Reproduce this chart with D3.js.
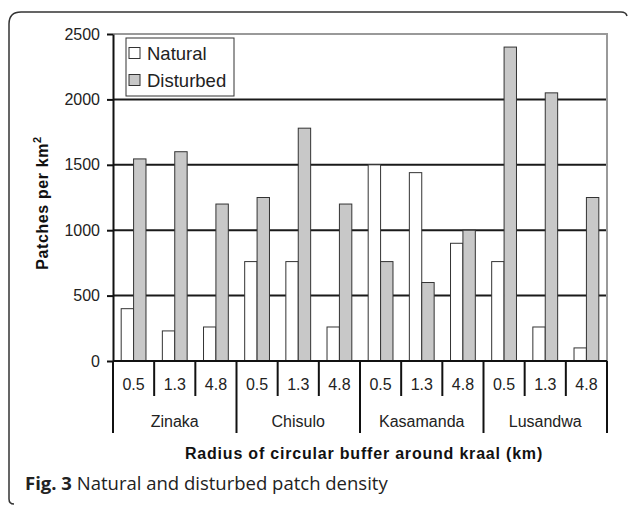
<!DOCTYPE html>
<html>
<head>
<meta charset="utf-8">
<script src="https://cdn.jsdelivr.net/npm/d3@7"></script>
<style>
  body { margin: 0; background: #fff; }
  svg { display: block; }
</style>
</head>
<body>
<div id="chart"></div>
<script>
// data
const sites = ["Zinaka", "Chisulo", "Kasamanda", "Lusandwa"];
const radii = ["0.5", "1.3", "4.8"];
const series = ["Natural", "Disturbed"];
const natural = [400, 230, 260, 760, 760, 260, 1500, 1440, 900, 760, 260, 100];
const disturbed = [1545, 1600, 1200, 1250, 1780, 1200, 760, 600, 1000, 2400, 2050, 1250];
const yTicks = [0, 500, 1000, 1500, 2000, 2500];

const W = 629, H = 506;
const margin = { top: 34, right: 22, bottom: 145, left: 113 };
const width = W - margin.left - margin.right;
const height = H - margin.top - margin.bottom;

const svg = d3.select("#chart").append("svg")
    .attr("width", W)
    .attr("height", H);

// outer frame (open bracket shape like the journal figure box)
svg.append("path")
    .attr("d", "M14,504 Q9,504 9,499 L9,24 Q9,12 21,12 L621,12 Q626,12 627,16")
    .attr("fill", "none")
    .attr("stroke", "#333")
    .attr("stroke-width", 1.5);

const g = svg.append("g")
    .attr("transform", "translate(" + margin.left + "," + margin.top + ")");

// one band per (site, radius) pair
const cats = [];
sites.forEach(s => radii.forEach(r => cats.push({ site: s, radius: r })));
const rows = cats.map((c, i) => ({ key: i, site: c.site, radius: c.radius, Natural: natural[i], Disturbed: disturbed[i] }));

const x = d3.scaleBand()
    .domain(d3.range(cats.length))
    .range([0, width])
    .padding(0);

const xs = d3.scaleBand()
    .domain(series)
    .range([0, x.bandwidth()])
    .paddingInner(0)
    .paddingOuter(0.66);

const y = d3.scaleLinear()
    .domain([0, 2500])
    .range([height, 0]);

const color = d3.scaleOrdinal()
    .domain(series)
    .range(["#ffffff", "#c8c8c8"]);

// gridlines
g.selectAll("line.grid")
    .data(yTicks.filter(t => t > 0 && t < 2500))
    .enter().append("line")
    .attr("class", "grid")
    .attr("x1", 0)
    .attr("x2", width)
    .attr("y1", d => y(d))
    .attr("y2", d => y(d))
    .attr("stroke", "#1a1a1a")
    .attr("stroke-width", 2);

// plot area border: top + right in grey
g.append("path")
    .attr("d", "M0," + y(2500) + "H" + width + "V" + height)
    .attr("fill", "none")
    .attr("stroke", "#999")
    .attr("stroke-width", 2);

// bars
const groups = g.selectAll("g.cat")
    .data(rows)
    .enter().append("g")
    .attr("class", "cat")
    .attr("transform", d => "translate(" + x(d.key) + ",0)");

groups.selectAll("rect")
    .data(d => series.map(k => ({ key: k, value: d[k] })))
    .enter().append("rect")
    .attr("x", d => xs(d.key))
    .attr("y", d => y(d.value))
    .attr("width", xs.bandwidth())
    .attr("height", d => height - y(d.value))
    .attr("fill", d => color(d.key))
    .attr("stroke", "#333")
    .attr("stroke-width", 1);

// y axis
const yAxis = g.append("g")
    .call(d3.axisLeft(y).tickValues(yTicks).tickFormat(d3.format("d"))
        .tickSize(6).tickPadding(7).tickSizeOuter(0));
yAxis.select(".domain").attr("stroke", "#111").attr("stroke-width", 2);
yAxis.selectAll(".tick line").attr("stroke", "#111").attr("stroke-width", 2);
yAxis.selectAll(".tick text")
    .style("font-family", "'Liberation Sans', Arial, sans-serif")
    .style("font-size", "16px")
    .attr("fill", "#222");

// category axis with two label rows
const cx = g.append("g").attr("class", "cat-axis");
cx.append("line")
    .attr("x1", 0).attr("x2", width)
    .attr("y1", height).attr("y2", height)
    .attr("stroke", "#111").attr("stroke-width", 2);

const seps = d3.range(cats.length + 1);
cx.selectAll("line.sep")
    .data(seps)
    .enter().append("line")
    .attr("class", "sep")
    .attr("x1", i => i * x.step())
    .attr("x2", i => i * x.step())
    .attr("y1", height)
    .attr("y2", i => height + (i % radii.length === 0 ? 72 : 35))
    .attr("stroke", "#111")
    .attr("stroke-width", 2);

cx.selectAll("text.radius")
    .data(rows)
    .enter().append("text")
    .attr("class", "radius")
    .attr("x", d => x(d.key) + x.bandwidth() / 2)
    .attr("y", height + 29)
    .attr("text-anchor", "middle")
    .style("font-family", "'Liberation Sans', Arial, sans-serif")
    .style("font-size", "16px")
    .attr("fill", "#222")
    .text(d => d.radius);

cx.selectAll("text.site")
    .data(sites)
    .enter().append("text")
    .attr("class", "site")
    .attr("x", (d, i) => (i * radii.length + radii.length / 2) * x.step())
    .attr("y", height + 66)
    .attr("text-anchor", "middle")
    .style("font-family", "'Liberation Sans', Arial, sans-serif")
    .style("font-size", "16px")
    .attr("fill", "#222")
    .text(d => d);

// axis titles
g.append("text")
    .attr("x", width / 2 + 4)
    .attr("y", height + 98)
    .attr("text-anchor", "middle")
    .style("font-family", "'Liberation Sans', Arial, sans-serif")
    .style("font-size", "16px")
    .style("font-weight", "bold")
    .style("letter-spacing", "0.8px")
    .attr("fill", "#111")
    .text("Radius of circular buffer around kraal (km)");

const yt = svg.append("text")
    .attr("transform", "translate(48,203) rotate(-90)")
    .attr("text-anchor", "middle")
    .style("font-family", "'Liberation Sans', Arial, sans-serif")
    .style("font-size", "16px")
    .style("font-weight", "bold")
    .style("letter-spacing", "0.6px")
    .attr("fill", "#111");
yt.append("tspan").text("Patches per km");
yt.append("tspan").attr("dy", -7).style("font-size", "11px").text("2");

// legend
const legend = svg.append("g")
    .attr("transform", "translate(126,38)");
legend.append("rect")
    .attr("width", 108)
    .attr("height", 58)
    .attr("fill", "#fff")
    .attr("stroke", "#333")
    .attr("stroke-width", 1);
const li = legend.selectAll("g.item")
    .data(series)
    .enter().append("g")
    .attr("class", "item")
    .attr("transform", (d, i) => "translate(3," + (15 + i * 27) + ")");
li.append("rect")
    .attr("x", 0)
    .attr("y", -5.5)
    .attr("width", 11)
    .attr("height", 11)
    .attr("fill", d => color(d))
    .attr("stroke", "#333");
li.append("text")
    .attr("x", 18)
    .attr("y", 6.5)
    .style("font-family", "'Liberation Sans', Arial, sans-serif")
    .style("font-size", "18.5px")
    .attr("fill", "#222")
    .text(d => d);

// caption
const cap = svg.append("text")
    .attr("x", 25)
    .attr("y", 490)
    .style("font-family", "'Open Sans', 'Noto Sans', sans-serif")
    .style("font-size", "18.5px")
    .attr("fill", "#222");
cap.append("tspan").style("font-weight", "bold").text("Fig. 3");
cap.append("tspan").text(" Natural and disturbed patch density");
</script>
</body>
</html>
